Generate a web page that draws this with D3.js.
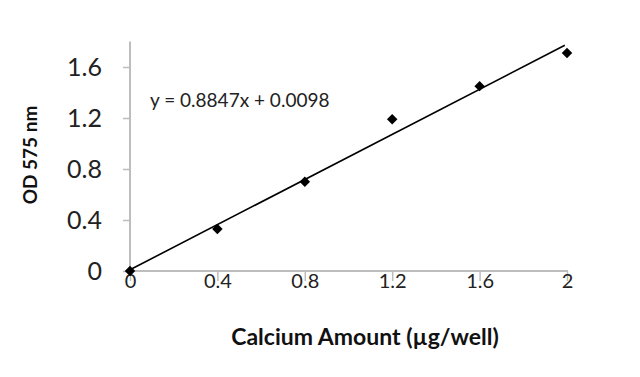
<!DOCTYPE html>
<html>
<head>
<meta charset="utf-8">
<script src="https://cdn.jsdelivr.net/npm/d3@7"></script>
<style>
  body { margin: 0; background: #fff; }
  svg { display: block; font-family: Lato, "Open Sans", sans-serif; }
</style>
</head>
<body>
<div id="chart"></div>
<script>
// data
const calcium = [0, 0.4, 0.8, 1.2, 1.6, 2];
const od575 = [0, 0.33, 0.70, 1.19, 1.45, 1.71];
const xTicks = [0, 0.4, 0.8, 1.2, 1.6, 2];
const yTicks = [0, 0.4, 0.8, 1.2, 1.6];
const slope = 0.8847;
const intercept = 0.0098;

const width = 640, height = 377;

const svg = d3.select('#chart').append('svg')
  .attr('width', width)
  .attr('height', height);

// scales
const x = d3.scaleLinear().domain([0, 2]).range([130, 567]);
const y = d3.scaleLinear().domain([0, 1.8]).range([271, 41.5]);

// y axis
const yAxis = svg.append('g')
  .attr('transform', `translate(${x(0)},0)`)
  .call(d3.axisLeft(y).tickValues(yTicks).tickSize(7).tickPadding(21)
    .tickFormat(d => d === 0 ? '0' : d3.format('.1f')(d)));
yAxis.select('.domain').attr('d', `M0,${y(1.8)}V${y(0)}`);

// x axis
const xAxis = svg.append('g')
  .attr('transform', `translate(0,${y(0)})`)
  .call(d3.axisBottom(x).tickValues(xTicks).tickSize(10).tickPadding(-7)
    .tickFormat(d => d === 0 || d === 2 ? String(d) : d3.format('.1f')(d)));
xAxis.select('.domain').attr('d', `M${x(0)},0H${x(2) + 1}`);

svg.selectAll('.domain').attr('stroke', '#bdbdbd').attr('stroke-width', 2);
svg.selectAll('.tick line').attr('stroke', '#bdbdbd').attr('stroke-width', 1.5);
svg.selectAll('.tick text').attr('font-family', 'Lato, sans-serif').attr('fill', '#222');
yAxis.selectAll('.tick text').attr('font-size', 25);
xAxis.selectAll('.tick text').attr('font-size', 20);

// trendline
svg.append('line')
  .attr('x1', x(0)).attr('y1', y(intercept))
  .attr('x2', x(1.99)).attr('y2', y(slope * 1.99 + intercept))
  .attr('stroke', '#000')
  .attr('stroke-width', 1.6);

// markers
svg.append('g').selectAll('path')
  .data(calcium.map((c, i) => [c, od575[i]]))
  .enter()
  .append('path')
  .attr('d', d3.symbol(d3.symbolDiamond2, 70))
  .attr('transform', d => `translate(${x(d[0])},${y(d[1])})`)
  .attr('fill', '#000');

// equation label
svg.append('text')
  .attr('x', 150)
  .attr('y', 107)
  .attr('font-size', 19)
  .attr('fill', '#222')
  .text(`y = ${slope}x + ${intercept.toFixed(4)}`);

// axis titles
svg.append('text')
  .attr('transform', 'translate(37,155) rotate(-90)')
  .attr('text-anchor', 'middle')
  .attr('font-size', 19)
  .attr('font-weight', 'bold')
  .attr('fill', '#111')
  .text('OD 575 nm');

svg.append('text')
  .attr('x', 365)
  .attr('y', 345)
  .attr('text-anchor', 'middle')
  .attr('font-size', 23)
  .attr('font-weight', 'bold')
  .attr('fill', '#111')
  .text('Calcium Amount (µg/well)');
</script>
</body>
</html>
